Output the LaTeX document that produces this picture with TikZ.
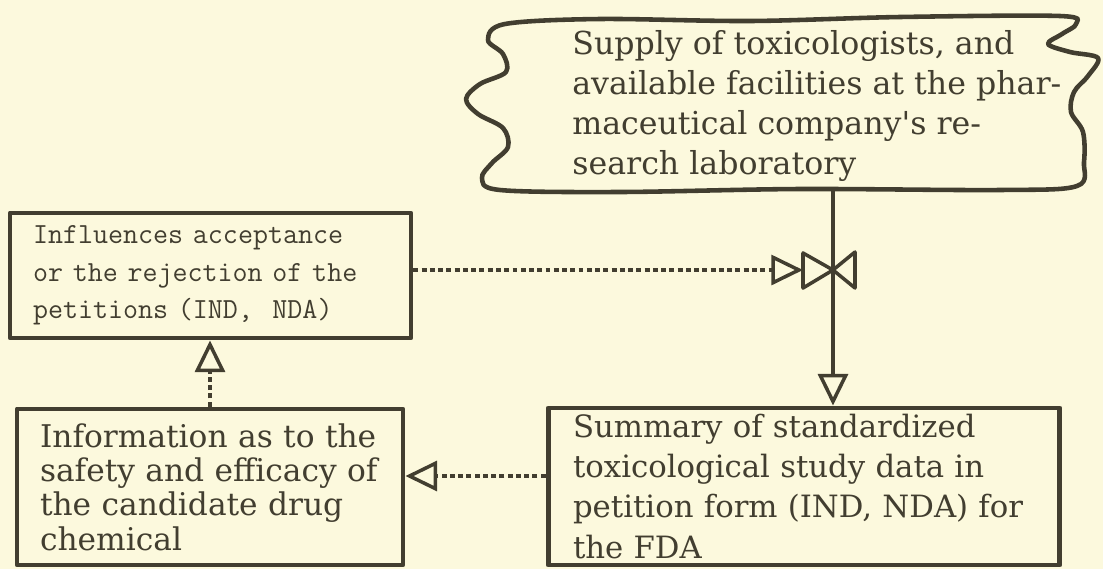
\documentclass[tikz,border=0pt]{standalone}
\usepackage{fontspec}
\setmainfont{DejaVu Serif}
\newfontfamily\typefont{DejaVu Serif}
\usepackage{tikz}
\usetikzlibrary{arrows.meta,positioning}

\definecolor{paper}{RGB}{252,249,221}
\definecolor{ink}{RGB}{66,62,48}

\tikzset{
  box/.style={draw=ink,line width=2.8pt,rectangle,inner sep=0pt,text=ink},
  typetext/.style={font=\typefont\fontsize{17.5}{22.8}\selectfont},
  cloudtext/.style={font=\typefont\fontsize{18}{22.8}\selectfont},
  infotext/.style={font=\typefont\fontsize{17.8}{19.6}\selectfont},
  pitchtext/.style={font=\ttfamily\fontsize{16.6}{21.3}\selectfont},
  opentip/.style={-{Triangle[open,length=18pt,width=17pt,line width=2pt]}},
  conn/.style={draw=ink,line width=2.5pt},
  dotconn/.style={draw=ink,line width=2.8pt,dash pattern=on 2.8pt off 1.9pt},
  tipline/.style={draw=ink,line width=2pt,line join=round}
}

\begin{document}
\begin{tikzpicture}[x=0.02cm,y=-0.02cm,line join=round]
\fill[paper] (0,0) rectangle (1103,569);
\path[use as bounding box] (0,0) rectangle (1103,569);

\draw[ink,line width=2.6pt] plot[smooth cycle,tension=0.55] coordinates {
  (505,24) (600,19) (750,21) (900,17) (1060,16) (1076,24) (1062,34) (1048,44)
  (1070,52) (1098,58) (1088,76) (1074,92) (1071,112) (1083,132) (1084,162)
  (1077,186) (1000,190) (800,189) (620,192) (500,190) (482,178) (492,163)
  (508,147) (503,128) (478,114) (466,99) (480,84) (506,72) (503,54) (488,40)};
\node[cloudtext,text=ink,anchor=west,align=left,inner sep=0pt] (supply) at (572,106)
  {Supply of toxicologists, and\\available facilities at the phar-\\maceutical company's re-\\search laboratory};

\node[box,pitchtext,minimum width=8.02cm,minimum height=2.5cm,text width=7.1cm,align=left] (infl) at (210.5,275.5)
  {Influences acceptance\\or the rejection of the\\petitions (IND,\ \ NDA)};
\node[box,infotext,minimum width=7.72cm,minimum height=3.12cm,text width=6.8cm,align=left] (info) at (210,487)
  {Information as to the\\safety and efficacy of\\the candidate drug\\chemical};
\node[box,typetext,minimum width=10.24cm,minimum height=3.14cm,text width=9.24cm,align=left] (summ) at (804,486.5)
  {Summary of standardized\\toxicological study data in\\petition form (IND, NDA) for\\the FDA};

\coordinate (supplyfoot) at (833,190);
\coordinate (valve) at (833,270);
\coordinate (valvein) at (803,270);
\coordinate (feedrow) at (480,476);

\draw[conn,opentip] (supplyfoot) -- (summ.north -| supplyfoot);
\draw[tipline] (valve) -- ++(-30,-17) -- ++(0,35) -- cycle;
\draw[tipline] (valve) -- ++(22,-18) -- ++(0,36) -- cycle;
\draw[dotconn,opentip] (infl.east |- valve) -- (valvein);
\draw[dotconn,opentip] (info.north) -- (info.north |- infl.south);
\draw[dotconn,opentip] (summ.west |- feedrow) -- (info.east |- feedrow);
\end{tikzpicture}
\end{document}
